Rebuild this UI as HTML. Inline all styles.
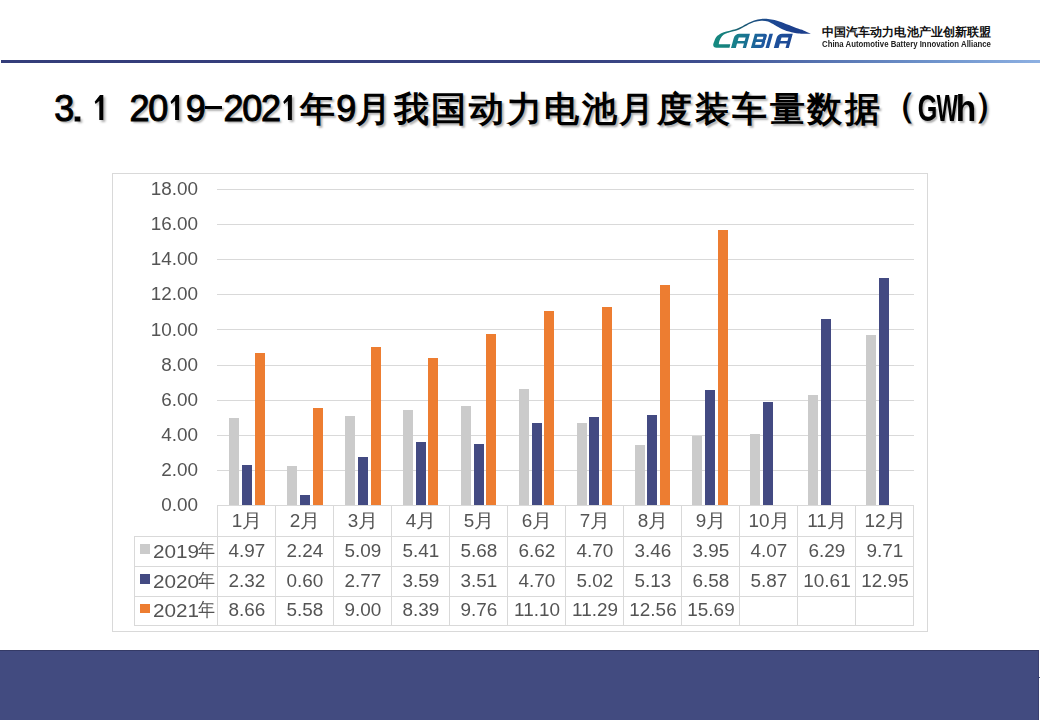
<!DOCTYPE html><html><head><meta charset="utf-8"><style>
*{margin:0;padding:0;box-sizing:border-box}
html,body{width:1040px;height:720px;overflow:hidden;background:#fff}
body{position:relative;font-family:"Liberation Sans",sans-serif}
.a{position:absolute}
.t{position:absolute;font-size:18px;color:#545454;line-height:20px;white-space:nowrap}
.yl{position:absolute;width:60px;text-align:right;font-size:18px;color:#545454;line-height:20px;transform:scaleX(1.05);transform-origin:100% 0}
.c{position:absolute;width:58px;text-align:center;font-size:18px;color:#545454;line-height:20px;transform:scaleX(1.05);white-space:nowrap}
.k{font-size:19px}
.lg{transform:scaleX(1.15);transform-origin:0 0}
.g{position:absolute;height:1px;background:#d9d9d9}
.b{position:absolute}
.ti{position:absolute;font-weight:bold;color:#000;text-align:center;text-shadow:2px 2px 2px rgba(0,0,0,.3);white-space:nowrap}
.tc{top:84.7px;font-size:35px;line-height:48px}
.td{top:85px;font-size:36px;line-height:48px;font-weight:normal;-webkit-text-stroke:1px #000}
.tb{font-weight:bold;-webkit-text-stroke:0}
</style></head><body>

<div class="a" style="left:1px;top:60px;width:1039px;height:3px;background:linear-gradient(90deg,#343d7a 0%,#36407e 55%,#3f4f90 68%,#5470ae 78%,#6f94cc 90%,#8db0e2 100%)"></div>
<svg class="a" style="left:700px;top:10px" width="120" height="45" viewBox="700 10 120 45">
<defs><linearGradient id="lg" gradientUnits="userSpaceOnUse" x1="712" x2="795" y1="0" y2="0"><stop offset="0" stop-color="#168a84"/><stop offset="0.25" stop-color="#17808a"/><stop offset="0.45" stop-color="#1a6a96"/><stop offset="0.62" stop-color="#1d56a0"/><stop offset="1" stop-color="#1e4592"/></linearGradient>
<linearGradient id="rg" gradientUnits="userSpaceOnUse" x1="716" y1="46" x2="790" y2="20"><stop offset="0" stop-color="#158a80"/><stop offset="0.2" stop-color="#167c7c"/><stop offset="0.35" stop-color="#1a5e70"/><stop offset="0.6" stop-color="#1c4e82"/><stop offset="0.8" stop-color="#1d4894"/><stop offset="1" stop-color="#1c3f8c"/></linearGradient></defs>
<path d="M729.5 47.7 L716.5 47.7 Q713 47.7 713.2 44.5  C713.32 44.13,713.38 43.55,713.90 42.30 C714.42 41.05,715.07 38.50,716.30 37.00 C717.53 35.50,719.63 34.20,721.30 33.30 C722.97 32.40,724.63 32.12,726.30 31.60 C727.97 31.08,729.35 30.75,731.30 30.20 C733.25 29.65,735.42 29.38,738.00 28.30 C740.58 27.22,744.13 25.00,746.80 23.70 C749.47 22.40,751.58 21.28,754.00 20.50 C756.42 19.72,758.97 19.27,761.30 19.00 C763.63 18.73,765.78 18.72,768.00 18.90 C770.22 19.08,772.70 19.67,774.60 20.10 C776.50 20.53,777.80 20.98,779.40 21.50 C781.00 22.02,782.60 22.62,784.20 23.20 C785.80 23.78,787.40 24.37,789.00 25.00 C790.60 25.63,792.18 26.37,793.80 27.00 C795.42 27.63,797.08 28.23,798.70 28.80 C800.32 29.37,801.53 29.60,803.50 30.40 C805.47 31.20,809.33 33.07,810.50 33.60 L810.50 33.70 C809.33 33.70,805.47 33.73,803.50 33.70 C801.53 33.67,800.32 33.65,798.70 33.50 C797.08 33.35,795.42 33.12,793.80 32.80 C792.18 32.48,790.60 32.08,789.00 31.60 C787.40 31.12,785.80 30.55,784.20 29.90 C782.60 29.25,781.00 28.50,779.40 27.70 C777.80 26.90,776.50 26.12,774.60 25.10 C772.70 24.08,770.22 22.32,768.00 21.60 C765.78 20.88,763.63 20.72,761.30 20.80 C758.97 20.88,756.42 21.33,754.00 22.10 C751.58 22.87,749.47 24.10,746.80 25.40 C744.13 26.70,740.85 28.77,738.00 29.90 C735.15 31.03,731.82 31.55,729.70 32.20 C727.58 32.85,726.58 33.13,725.30 33.80 C724.02 34.47,722.95 35.08,722.00 36.20 C721.05 37.32,720.13 39.17,719.60 40.50 C719.07 41.83,718.93 43.58,718.80 44.20 L730.3 44.2 Z" fill="url(#rg)"/>
<path fill-rule="evenodd" transform="translate(0,47.9) skewX(-15.6) translate(0,-47.9)" fill="url(#lg)" d="M731.0 47.9 L731.0 38.2 Q731.0 33.7 735.5 33.7 L746.0 33.7 L746.0 47.9 L742.7 47.9 L742.7 43.5 L735.8 43.5 L735.8 47.9 L731.0 47.9 Z M735.8 37.4 L742.7 37.4 L742.7 41.1 L735.8 41.1 Z M750.9 47.9 L750.9 33.7 L761.0 33.7 Q763.5 33.7 763.5 36.2 L763.5 40.3 Q762.3 40.8 763.5 41.3 L763.5 45.4 Q763.5 47.9 761.0 47.9 Z M754.2 36.8 L760.3 36.8 L760.3 39.2 L754.2 39.2 Z M754.2 42.1 L760.3 42.1 L760.3 44.8 L754.2 44.8 Z M765.5 47.9 L765.5 33.7 L769 33.7 L769 47.9 Z M773.8 47.9 L773.8 38.2 Q773.8 33.7 778.3 33.7 L788.8 33.7 L788.8 47.9 L785.5 47.9 L785.5 43.5 L778.6 43.5 L778.6 47.9 L773.8 47.9 Z M778.6 37.4 L785.5 37.4 L785.5 41.1 L778.6 41.1 Z"/>
</svg>
<div class="a" style="left:821.5px;top:24.5px;font-size:12px;font-weight:900;color:#111;line-height:14px;letter-spacing:0.15px;white-space:nowrap">中国汽车动力电池产业创新联盟</div>
<div class="a" style="left:822px;top:38.5px;font-size:8.6px;font-weight:bold;color:#222;line-height:10px;white-space:nowrap;transform:scaleX(0.908);transform-origin:0 0">China Automotive Battery Innovation Alliance</div>
<span class="ti td" style="left:54.2px;width:18.8px">3</span>
<span class="ti td" style="left:67.5px;width:18.8px;transform:scaleX(1.30)">.</span>
<span class="ti td" style="left:129.4px;width:18.8px">2</span>
<span class="ti td" style="left:148.2px;width:18.8px">0</span>
<span class="ti td" style="left:185.8px;width:18.8px">9</span>
<div class="a" style="left:205px;top:106.2px;width:16.6px;height:2.7px;background:#000;box-shadow:2px 2px 2px rgba(0,0,0,.3)"></div>
<span class="ti td" style="left:223.4px;width:18.8px">2</span>
<span class="ti td" style="left:242.2px;width:18.8px">0</span>
<span class="ti td" style="left:261.0px;width:18.8px">2</span>
<span class="ti tc" style="left:298.6px;width:37.6px">年</span>
<span class="ti td" style="left:336.2px;width:18.8px">9</span>
<span class="ti tc" style="left:355.0px;width:37.6px">月</span>
<span class="ti tc" style="left:392.6px;width:37.6px">我</span>
<span class="ti tc" style="left:430.2px;width:37.6px">国</span>
<span class="ti tc" style="left:467.8px;width:37.6px">动</span>
<span class="ti tc" style="left:505.4px;width:37.6px">力</span>
<span class="ti tc" style="left:543.0px;width:37.6px">电</span>
<span class="ti tc" style="left:580.6px;width:37.6px">池</span>
<span class="ti tc" style="left:618.2px;width:37.6px">月</span>
<span class="ti tc" style="left:655.8px;width:37.6px">度</span>
<span class="ti tc" style="left:693.4px;width:37.6px">装</span>
<span class="ti tc" style="left:731.0px;width:37.6px">车</span>
<span class="ti tc" style="left:768.6px;width:37.6px">量</span>
<span class="ti tc" style="left:806.2px;width:37.6px">数</span>
<span class="ti tc" style="left:843.8px;width:37.6px">据</span>
<span class="ti tc" style="left:879.4px;width:37.6px;margin-top:-3.5px">（</span>
<span class="ti td tb" style="left:915.0px;width:18.8px;transform:scaleX(0.70)">G</span>
<span class="ti td tb" style="left:933.3px;width:18.8px;transform:scaleX(0.63)">W</span>
<span class="ti td tb" style="left:954.8px;width:18.8px;transform:scaleX(0.93)">h</span>
<span class="ti tc" style="left:972.4px;width:37.6px;margin-top:-3.5px">）</span>
<svg class="a" style="left:0;top:0;overflow:visible;filter:drop-shadow(2px 2px 1.2px rgba(0,0,0,.32))" width="320" height="140" viewBox="0 0 320 140"><path fill="#000" d="M100.0 95.0 L103.3 95.0 L103.3 120.0 L99.3 120.0 L99.3 100.9 L95.6 103.9 L94.7 101.7 Z M175.8 95.0 L179.1 95.0 L179.1 120.0 L175.1 120.0 L175.1 100.9 L171.4 103.9 L170.5 101.7 Z M288.6 95.0 L291.9 95.0 L291.9 120.0 L287.9 120.0 L287.9 100.9 L284.2 103.9 L283.3 101.7 Z"/></svg>
<div class="a" style="left:112px;top:173px;width:815.5px;height:459px;border:1px solid #d9d9d9"></div>
<div class="g" style="left:217px;top:505.0px;width:697px"></div>
<div class="yl" style="left:137.5px;top:495.1px">0.00</div>
<div class="g" style="left:217px;top:469.9px;width:697px"></div>
<div class="yl" style="left:137.5px;top:460.0px">2.00</div>
<div class="g" style="left:217px;top:434.8px;width:697px"></div>
<div class="yl" style="left:137.5px;top:424.9px">4.00</div>
<div class="g" style="left:217px;top:399.6px;width:697px"></div>
<div class="yl" style="left:137.5px;top:389.7px">6.00</div>
<div class="g" style="left:217px;top:364.5px;width:697px"></div>
<div class="yl" style="left:137.5px;top:354.6px">8.00</div>
<div class="g" style="left:217px;top:329.4px;width:697px"></div>
<div class="yl" style="left:137.5px;top:319.5px">10.00</div>
<div class="g" style="left:217px;top:294.3px;width:697px"></div>
<div class="yl" style="left:137.5px;top:284.4px">12.00</div>
<div class="g" style="left:217px;top:259.1px;width:697px"></div>
<div class="yl" style="left:137.5px;top:249.2px">14.00</div>
<div class="g" style="left:217px;top:224.0px;width:697px"></div>
<div class="yl" style="left:137.5px;top:214.1px">16.00</div>
<div class="g" style="left:217px;top:188.9px;width:697px"></div>
<div class="yl" style="left:137.5px;top:179.0px">18.00</div>
<div class="b" style="left:229.25px;top:418.22px;width:10.00px;height:86.78px;background:#cbcbcb"></div>
<div class="b" style="left:242.00px;top:464.76px;width:10.00px;height:40.24px;background:#434a82"></div>
<div class="b" style="left:254.75px;top:353.42px;width:10.00px;height:151.58px;background:#ed7d31"></div>
<div class="b" style="left:287.15px;top:466.16px;width:10.00px;height:38.84px;background:#cbcbcb"></div>
<div class="b" style="left:299.90px;top:494.96px;width:10.00px;height:10.04px;background:#434a82"></div>
<div class="b" style="left:312.65px;top:407.51px;width:10.00px;height:97.49px;background:#ed7d31"></div>
<div class="b" style="left:345.05px;top:416.11px;width:10.00px;height:88.89px;background:#cbcbcb"></div>
<div class="b" style="left:357.80px;top:456.86px;width:10.00px;height:48.14px;background:#434a82"></div>
<div class="b" style="left:370.55px;top:347.45px;width:10.00px;height:157.55px;background:#ed7d31"></div>
<div class="b" style="left:402.95px;top:410.49px;width:10.00px;height:94.51px;background:#cbcbcb"></div>
<div class="b" style="left:415.70px;top:442.46px;width:10.00px;height:62.54px;background:#434a82"></div>
<div class="b" style="left:428.45px;top:358.16px;width:10.00px;height:146.84px;background:#ed7d31"></div>
<div class="b" style="left:460.85px;top:405.75px;width:10.00px;height:99.25px;background:#cbcbcb"></div>
<div class="b" style="left:473.60px;top:443.86px;width:10.00px;height:61.14px;background:#434a82"></div>
<div class="b" style="left:486.35px;top:334.10px;width:10.00px;height:170.90px;background:#ed7d31"></div>
<div class="b" style="left:518.75px;top:389.25px;width:10.00px;height:115.75px;background:#cbcbcb"></div>
<div class="b" style="left:531.50px;top:422.96px;width:10.00px;height:82.04px;background:#434a82"></div>
<div class="b" style="left:544.25px;top:310.57px;width:10.00px;height:194.43px;background:#ed7d31"></div>
<div class="b" style="left:576.65px;top:422.96px;width:10.00px;height:82.04px;background:#cbcbcb"></div>
<div class="b" style="left:589.40px;top:417.34px;width:10.00px;height:87.66px;background:#434a82"></div>
<div class="b" style="left:602.15px;top:307.24px;width:10.00px;height:197.76px;background:#ed7d31"></div>
<div class="b" style="left:634.55px;top:444.74px;width:10.00px;height:60.26px;background:#cbcbcb"></div>
<div class="b" style="left:647.30px;top:415.41px;width:10.00px;height:89.59px;background:#434a82"></div>
<div class="b" style="left:660.05px;top:284.93px;width:10.00px;height:220.07px;background:#ed7d31"></div>
<div class="b" style="left:692.45px;top:436.13px;width:10.00px;height:68.87px;background:#cbcbcb"></div>
<div class="b" style="left:705.20px;top:389.95px;width:10.00px;height:115.05px;background:#434a82"></div>
<div class="b" style="left:717.95px;top:229.97px;width:10.00px;height:275.03px;background:#ed7d31"></div>
<div class="b" style="left:750.35px;top:434.03px;width:10.00px;height:70.97px;background:#cbcbcb"></div>
<div class="b" style="left:763.10px;top:402.42px;width:10.00px;height:102.58px;background:#434a82"></div>
<div class="b" style="left:808.25px;top:395.04px;width:10.00px;height:109.96px;background:#cbcbcb"></div>
<div class="b" style="left:821.00px;top:319.18px;width:10.00px;height:185.82px;background:#434a82"></div>
<div class="b" style="left:866.15px;top:334.98px;width:10.00px;height:170.02px;background:#cbcbcb"></div>
<div class="b" style="left:878.90px;top:278.09px;width:10.00px;height:226.91px;background:#434a82"></div>
<div class="a" style="left:217px;top:505.0px;width:697px;height:1px;background:#d9d9d9"></div>
<div class="a" style="left:134px;top:535.5px;width:780px;height:1px;background:#d9d9d9"></div>
<div class="a" style="left:134px;top:565.7px;width:780px;height:1px;background:#d9d9d9"></div>
<div class="a" style="left:134px;top:595.8px;width:780px;height:1px;background:#d9d9d9"></div>
<div class="a" style="left:134px;top:624.9px;width:780px;height:1px;background:#d9d9d9"></div>
<div class="a" style="left:134px;top:535.5px;width:1px;height:90.4px;background:#d9d9d9"></div>
<div class="a" style="left:217.0px;top:505.0px;width:1px;height:120.9px;background:#d9d9d9"></div>
<div class="a" style="left:275.0px;top:505.0px;width:1px;height:120.9px;background:#d9d9d9"></div>
<div class="a" style="left:333.0px;top:505.0px;width:1px;height:120.9px;background:#d9d9d9"></div>
<div class="a" style="left:391.0px;top:505.0px;width:1px;height:120.9px;background:#d9d9d9"></div>
<div class="a" style="left:449.0px;top:505.0px;width:1px;height:120.9px;background:#d9d9d9"></div>
<div class="a" style="left:507.0px;top:505.0px;width:1px;height:120.9px;background:#d9d9d9"></div>
<div class="a" style="left:565.0px;top:505.0px;width:1px;height:120.9px;background:#d9d9d9"></div>
<div class="a" style="left:623.0px;top:505.0px;width:1px;height:120.9px;background:#d9d9d9"></div>
<div class="a" style="left:681.0px;top:505.0px;width:1px;height:120.9px;background:#d9d9d9"></div>
<div class="a" style="left:739.0px;top:505.0px;width:1px;height:120.9px;background:#d9d9d9"></div>
<div class="a" style="left:797.0px;top:505.0px;width:1px;height:120.9px;background:#d9d9d9"></div>
<div class="a" style="left:855.0px;top:505.0px;width:1px;height:120.9px;background:#d9d9d9"></div>
<div class="a" style="left:913.0px;top:505.0px;width:1px;height:120.9px;background:#d9d9d9"></div>
<div class="c" style="left:217.5px;top:511.1px">1<span class="k">月</span></div>
<div class="c" style="left:275.5px;top:511.1px">2<span class="k">月</span></div>
<div class="c" style="left:333.5px;top:511.1px">3<span class="k">月</span></div>
<div class="c" style="left:391.5px;top:511.1px">4<span class="k">月</span></div>
<div class="c" style="left:449.5px;top:511.1px">5<span class="k">月</span></div>
<div class="c" style="left:507.5px;top:511.1px">6<span class="k">月</span></div>
<div class="c" style="left:565.5px;top:511.1px">7<span class="k">月</span></div>
<div class="c" style="left:623.5px;top:511.1px">8<span class="k">月</span></div>
<div class="c" style="left:681.5px;top:511.1px">9<span class="k">月</span></div>
<div class="c" style="left:739.5px;top:511.1px">10<span class="k">月</span></div>
<div class="c" style="left:797.5px;top:511.1px">11<span class="k">月</span></div>
<div class="c" style="left:855.5px;top:511.1px">12<span class="k">月</span></div>
<div class="a" style="left:139.6px;top:544.1px;width:10px;height:9.5px;background:#cbcbcb"></div>
<div class="t lg" style="left:153.3px;top:541.5px">2019</div>
<div class="t" style="left:197.6px;top:540.5px;font-size:19px;transform:scaleX(0.9);transform-origin:0 0">年</div>
<div class="c" style="left:217.5px;top:540.7px">4.97</div>
<div class="c" style="left:275.5px;top:540.7px">2.24</div>
<div class="c" style="left:333.5px;top:540.7px">5.09</div>
<div class="c" style="left:391.5px;top:540.7px">5.41</div>
<div class="c" style="left:449.5px;top:540.7px">5.68</div>
<div class="c" style="left:507.5px;top:540.7px">6.62</div>
<div class="c" style="left:565.5px;top:540.7px">4.70</div>
<div class="c" style="left:623.5px;top:540.7px">3.46</div>
<div class="c" style="left:681.5px;top:540.7px">3.95</div>
<div class="c" style="left:739.5px;top:540.7px">4.07</div>
<div class="c" style="left:797.5px;top:540.7px">6.29</div>
<div class="c" style="left:855.5px;top:540.7px">9.71</div>
<div class="a" style="left:139.6px;top:574.2px;width:10px;height:9.5px;background:#434a82"></div>
<div class="t lg" style="left:153.3px;top:571.6px">2020</div>
<div class="t" style="left:197.6px;top:570.6px;font-size:19px;transform:scaleX(0.9);transform-origin:0 0">年</div>
<div class="c" style="left:217.5px;top:570.9px">2.32</div>
<div class="c" style="left:275.5px;top:570.9px">0.60</div>
<div class="c" style="left:333.5px;top:570.9px">2.77</div>
<div class="c" style="left:391.5px;top:570.9px">3.59</div>
<div class="c" style="left:449.5px;top:570.9px">3.51</div>
<div class="c" style="left:507.5px;top:570.9px">4.70</div>
<div class="c" style="left:565.5px;top:570.9px">5.02</div>
<div class="c" style="left:623.5px;top:570.9px">5.13</div>
<div class="c" style="left:681.5px;top:570.9px">6.58</div>
<div class="c" style="left:739.5px;top:570.9px">5.87</div>
<div class="c" style="left:797.5px;top:570.9px">10.61</div>
<div class="c" style="left:855.5px;top:570.9px">12.95</div>
<div class="a" style="left:139.6px;top:603.8px;width:10px;height:9.5px;background:#ed7d31"></div>
<div class="t lg" style="left:153.3px;top:601.2px">2021</div>
<div class="t" style="left:197.6px;top:600.2px;font-size:19px;transform:scaleX(0.9);transform-origin:0 0">年</div>
<div class="c" style="left:217.5px;top:600.4px">8.66</div>
<div class="c" style="left:275.5px;top:600.4px">5.58</div>
<div class="c" style="left:333.5px;top:600.4px">9.00</div>
<div class="c" style="left:391.5px;top:600.4px">8.39</div>
<div class="c" style="left:449.5px;top:600.4px">9.76</div>
<div class="c" style="left:507.5px;top:600.4px">11.10</div>
<div class="c" style="left:565.5px;top:600.4px">11.29</div>
<div class="c" style="left:623.5px;top:600.4px">12.56</div>
<div class="c" style="left:681.5px;top:600.4px">15.69</div>
<div class="a" style="left:0;top:650px;width:1039px;height:70px;background:#424b80;border-top:1px solid #343a66;border-right:1px solid #3a4070"></div>
<div class="a" style="left:1039px;top:676.5px;width:1px;height:1.5px;background:#555a80"></div>
</body></html>
